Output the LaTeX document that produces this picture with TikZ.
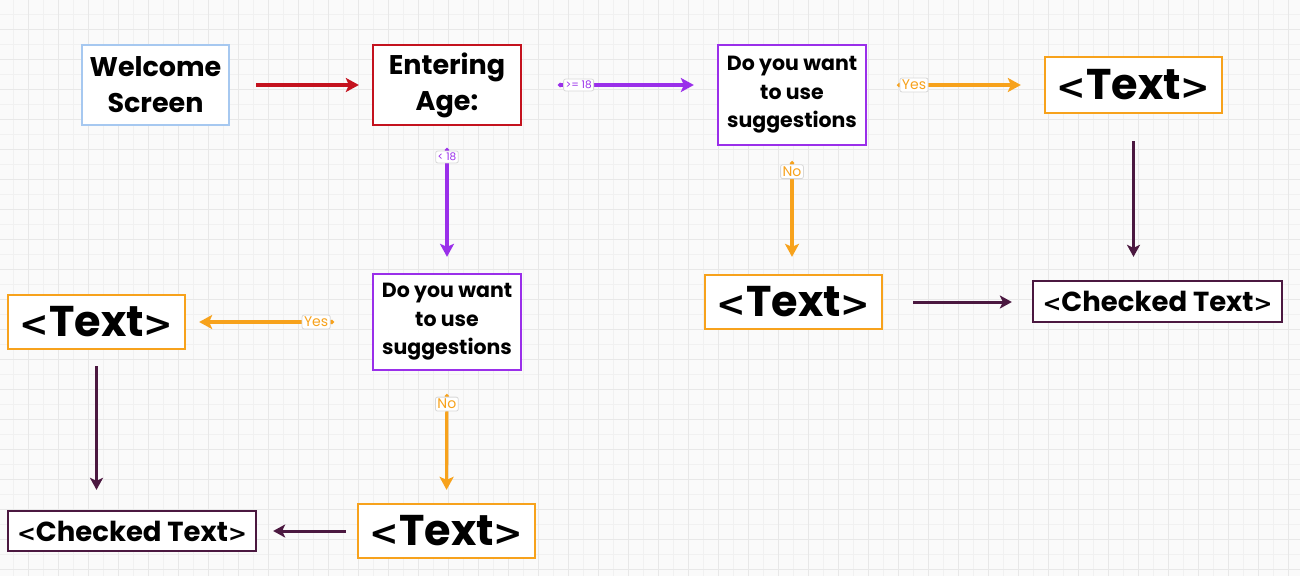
\documentclass[tikz,border=0pt]{standalone}
\usepackage{fontspec}
\setmainfont{Poppins}
\newfontfamily\symf{DejaVu Sans}[Scale=0.82]
\newcommand{\lsym}{{\symf\bfseries <}}
\newcommand{\gsym}{{\symf\bfseries >}}
\usetikzlibrary{arrows.meta}
\definecolor{bgc}{HTML}{FAFAFA}
\definecolor{gmin}{HTML}{F1F1F1}
\definecolor{gmaj}{HTML}{E8E8E8}
\definecolor{cblue}{HTML}{A6C8F0}
\definecolor{cred}{HTML}{C4121E}
\definecolor{cpurp}{HTML}{9A2FEA}
\definecolor{corange}{HTML}{F7A21C}
\definecolor{cdark}{HTML}{4B1840}
\definecolor{lblbd}{HTML}{D8D8D8}
\tikzset{
  box/.style={draw, line width=2.3pt, fill=white, inner sep=0pt, align=center, text=black},
  bigtxt/.style={font=\fontsize{27}{36}\selectfont\bfseries},
  qtxt/.style={font=\fontsize{20.5}{28.5}\selectfont\bfseries},
  hugetxt/.style={font=\fontsize{43}{50}\selectfont\bfseries},
  chktxt/.style={font=\fontsize{27.5}{30}\selectfont\bfseries},
  conn/.style={line width=3.2pt, -{Stealth[length=13pt,width=14pt,inset=3pt]}},
  dconn/.style={line width=3pt, -{Stealth[length=12pt,width=13pt,inset=3pt]}},
  lconn/.style={line width=3.2pt, {Circle[length=4pt]}-{Stealth[length=13pt,width=14pt,inset=3pt]}},
  lbl/.style={fill=white, draw=lblbd, line width=0.8pt, rounded corners=2pt, inner sep=2pt},
  slbl/.style={lbl, font=\fontsize{10.5}{11}\selectfont},
  ylbl/.style={lbl, font=\fontsize{14}{14}\selectfont},
}
\begin{document}
\begin{tikzpicture}[x=1pt,y=-1pt]
\useasboundingbox (0,0) rectangle (1300,576);
\fill[bgc] (0,0) rectangle (1300,576);
\foreach \i in {0,...,87} {\draw[gmin, line width=0.8pt] ({13+15*\i},0) -- ({13+15*\i},576);}
\foreach \j in {0,...,38} {\draw[gmin, line width=0.8pt] (0,{14+15*\j}) -- (1300,{14+15*\j});}
\foreach \i in {0,...,43} {\draw[gmaj, line width=1pt] ({28+30*\i},0) -- ({28+30*\i},576);}
\foreach \j in {0,...,19} {\draw[gmaj, line width=1pt] (0,{29+30*\j}) -- (1300,{29+30*\j});}

% nodes
\node[box, draw=cblue, bigtxt, minimum width=147pt, minimum height=80pt] (welcome) at (155.5,85) {Welcome\\Screen};
\node[box, draw=cred, bigtxt, minimum width=148pt, minimum height=80pt] (enter) at (447,85) {Entering\\Age:};
\node[box, draw=cpurp, qtxt, minimum width=148pt, minimum height=100pt] (do1) at (792,95) {Do you want\\to use\\suggestions};
\node[box, draw=corange, hugetxt, minimum width=177pt, minimum height=56pt] (text1) at (1133.5,85) {\lsym Text\gsym};
\node[box, draw=cdark, chktxt, minimum width=249pt, minimum height=41pt] (check1) at (1157.5,301.5) {\lsym Checked Text\gsym};
\node[box, draw=corange, hugetxt, minimum width=177pt, minimum height=54pt] (text2) at (793.5,302) {\lsym Text\gsym};
\node[box, draw=cpurp, qtxt, minimum width=148pt, minimum height=96pt] (do2) at (447,322) {Do you want\\to use\\suggestions};
\node[box, draw=corange, hugetxt, minimum width=177pt, minimum height=54pt] (text3) at (96.5,322) {\lsym Text\gsym};
\node[box, draw=cdark, chktxt, minimum width=248pt, minimum height=40pt] (check2) at (132,531) {\lsym Checked Text\gsym};
\node[box, draw=corange, hugetxt, minimum width=177pt, minimum height=54pt] (text4) at (446.5,531) {\lsym Text\gsym};

% connectors
\draw[conn, cred, shorten <=26pt, shorten >=13pt] (welcome.east) -- (enter.west);
\draw[lconn, cpurp, shorten <=36pt, shorten >=23pt] (enter.east) -- node[slbl, text=cpurp, pos=0.29] (l1) {>= 18} (do1.west |- enter.east);
\draw[lconn, cpurp, shorten <=22pt, shorten >=16pt] (enter.south) -- node[slbl, text=cpurp, pos=0.21] (l2) {< 18} (do2.north);
\draw[lconn, corange, shorten <=30pt, shorten >=23pt] (do1.east |- text1.west) -- node[ylbl, text=corange, pos=0.265] (l3) {Yes} (text1.west);
\draw[lconn, corange, shorten <=15pt, shorten >=17pt] (do1.south) -- node[ylbl, text=corange, pos=0.2] (l4) {No} (do1.south |- text2.north);
\draw[dconn, cdark, shorten <=27pt, shorten >=23pt] (text1.south) -- (text1.south |- check1.north);
\draw[dconn, cdark, shorten <=30pt, shorten >=20pt] (text2.east) -- (check1.west |- text2.east);
\draw[lconn, corange, shorten <=38pt, shorten >=13pt] (do2.west) -- node[ylbl, text=corange, pos=0.3] (l5) {Yes} (text3.east);
\draw[lconn, corange, shorten <=23pt, shorten >=13pt] (do2.south) -- node[ylbl, text=corange, pos=0.25] (l6) {No} (text4.north);
\draw[dconn, cdark, shorten <=16pt, shorten >=20pt] (text3.south) -- (text3.south |- check2.north);
\draw[dconn, cdark, shorten <=11pt, shorten >=16pt] (text4.west) -- (check2.east);
\end{tikzpicture}
\end{document}
